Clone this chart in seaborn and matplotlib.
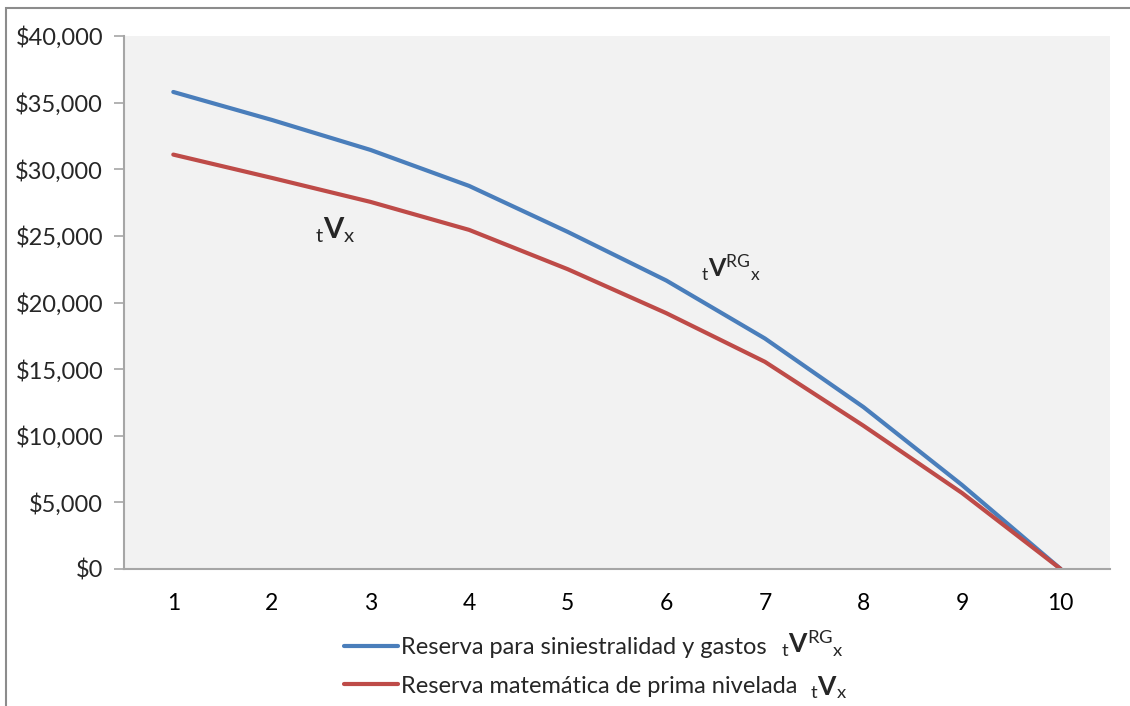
import matplotlib
matplotlib.use("Agg")
import matplotlib.pyplot as plt
import matplotlib.ticker as mticker
from matplotlib.patches import Rectangle
import seaborn as sns
import pandas as pd

# Policy years and reserve values
years = [1, 2, 3, 4, 5, 6, 7, 8, 9, 10]
reserva_rg = [35800, 33700, 31450, 28750, 25300, 21650, 17300, 12150, 6300, 0]
reserva_mat = [31100, 29350, 27550, 25450, 22500, 19200, 15550, 10750, 5700, 0]
series_names = ["Reserva para siniestralidad y gastos",
                "Reserva matemática de prima nivelada"]
y_ticks = [0, 5000, 10000, 15000, 20000, 25000, 30000, 35000, 40000]

sns.set_theme(style="white")
plt.rcParams["font.family"] = ["Lato", "DejaVu Sans"]
plt.rcParams["mathtext.fontset"] = "custom"
plt.rcParams["mathtext.rm"] = "Lato"
plt.rcParams["mathtext.it"] = "Lato:italic"
plt.rcParams["mathtext.bf"] = "Lato:bold"

df = pd.DataFrame({
    "t": years * 2,
    "valor": reserva_rg + reserva_mat,
    "serie": [series_names[0]] * len(years) + [series_names[1]] * len(years),
})

fig = plt.figure(figsize=(11.3, 7.06), dpi=100)
ax = fig.add_axes([124 / 1130, 1 - 569 / 706, (1110 - 124) / 1130, (569 - 36) / 706])
ax.set_facecolor("#f2f2f2")

palette = {series_names[0]: "#4a7ebb", series_names[1]: "#be4b48"}
sns.lineplot(data=df, x="t", y="valor", hue="serie", palette=palette,
             linewidth=3.0, ax=ax, legend=False, solid_capstyle="round")

ax.set_xlim(0.5, 10.5)
ax.set_ylim(0, 40000)
ax.set_yticks(y_ticks)
ax.yaxis.set_major_formatter(mticker.FuncFormatter(lambda v, p: f"${v:,.0f}"))
ax.set_xticks(years)
ax.set_xticks([y + 0.5 for y in [0] + years], minor=True)
ax.tick_params(axis="x", which="major", length=0, pad=17, labelsize=16.5, colors="#000000")
ax.tick_params(axis="x", which="minor", length=7, width=1.2, color="#a6a6a6", direction="out")
ax.tick_params(axis="y", which="major", length=7, width=1.2, color="#a6a6a6",
               direction="out", labelsize=17, pad=8, left=True)
ax.set_xlabel("")
ax.set_ylabel("")
ax.grid(False)
for side in ["top", "right"]:
    ax.spines[side].set_visible(False)
for side in ["left", "bottom"]:
    ax.spines[side].set_color("#a6a6a6")
    ax.spines[side].set_linewidth(1.5)

# Series labels inside the plot
ax.text(2.64, 25450, r"${}_{\mathrm{t}}\mathbf{V}_{\mathrm{x}}$", fontsize=21,
        ha="center", va="center")
ax.text(6.66, 22600, r"${}_{\mathrm{t}}\mathbf{V}^{\mathrm{RG}}{}_{\mathrm{x}}$", fontsize=18,
        ha="center", va="center")

# Legend below the axes
handles = ax.get_lines()[:2]
fig.legend(handles, series_names, loc="upper left",
           bbox_to_anchor=(344 / 1130, 1 - 637 / 706), frameon=False,
           fontsize=17, handlelength=2.3, handletextpad=0.12, labelspacing=0.75,
           borderpad=0, borderaxespad=0)
fig.text(812 / 1130, 1 - 642 / 706, r"${}_{\mathrm{t}}\mathbf{V}^{\mathrm{RG}}{}_{\mathrm{x}}$",
         fontsize=19, ha="center", va="center")
fig.text(829 / 1130, 1 - 688 / 706, r"${}_{\mathrm{t}}\mathbf{V}_{\mathrm{x}}$",
         fontsize=19, ha="center", va="center")

# Chart area border
fig.patches.append(Rectangle((6 / 1130, -0.05), 1.1, 1 - 8 / 706 + 0.05,
                             transform=fig.transFigure, fill=False,
                             edgecolor="#8c8c8c", linewidth=1.5))

fig.savefig("out.png", dpi=100)
